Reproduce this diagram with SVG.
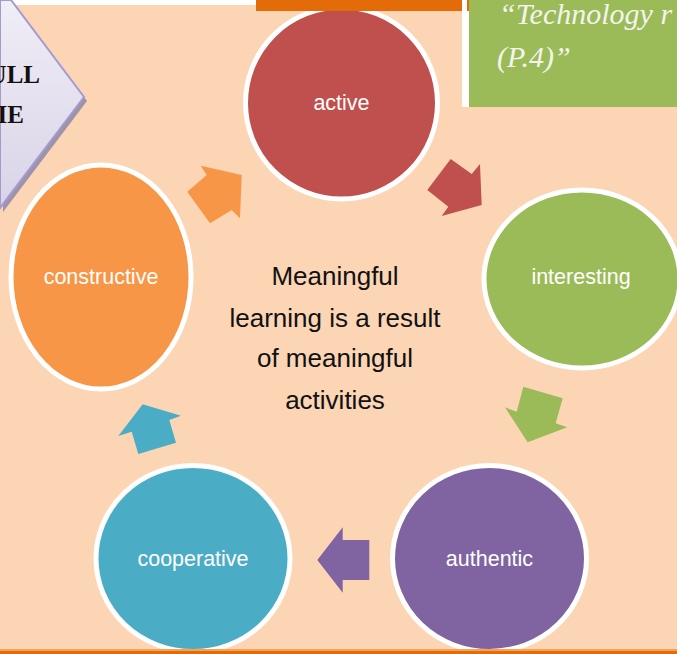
<svg xmlns="http://www.w3.org/2000/svg" width="677" height="654" viewBox="0 0 677 654">
<defs>
<linearGradient id="lav" x1="0" y1="0" x2="0" y2="1">
<stop offset="0" stop-color="#F0EEF7"/>
<stop offset="1" stop-color="#D9D3E7"/>
</linearGradient>
</defs>
<style>
.node{stroke:#FFFFFF;stroke-width:5}
.lbl{font-family:"Liberation Sans",Arial,sans-serif;font-size:21.5px;fill:#FFFFFF;text-anchor:middle}
.mid{font-family:"Liberation Sans",Arial,sans-serif;font-size:26px;fill:#111111;text-anchor:middle}
.quote{font-family:"Liberation Serif","Times New Roman",serif;font-style:italic;font-size:30px;fill:#F4F4EE}
.bold{font-family:"Liberation Serif","Times New Roman",serif;font-weight:bold;font-size:25px;fill:#111111;text-anchor:end}
</style>
<rect x="0" y="0" width="677" height="654" fill="#FCD5B5"/>
<rect x="0" y="0" width="677" height="5" fill="#FFFFFF"/>
<g id="banner">
<polygon points="3,4 14,4 87,101 3,212" fill="#9E93A8"/>
<polygon points="0,0 11,0 84,97 0,208" fill="url(#lav)" stroke="#A49AD0" stroke-width="2"/>
<text class="bold" x="40" y="83">ULL</text>
<text class="bold" x="24" y="123">IE</text>
</g>
<g id="quote">
<rect x="462" y="0" width="7" height="107" fill="#FFFFFF"/>
<rect x="469" y="0" width="208" height="107" fill="#9BBB59"/>
<rect x="467" y="0" width="2" height="11" fill="#E36C09"/>
<text class="quote" x="499" y="24">“Technology r</text>
<text class="quote" x="497" y="67">(P.4)”</text>
</g>
<g id="connectors">
<polygon points="241.7,175 240,218.3 231.7,210 210,223.3 187.3,191.7 206.7,175 200.7,165.7" fill="#F79646"/>
<polygon points="481.7,205 441.7,216 448.3,206.7 427.3,190 450.7,159 471.7,174 480,164" fill="#C0504D"/>
<polygon points="527.7,442.3 505,407.3 516.7,411.7 523.3,386.7 562.7,398.3 555.7,423.3 567.3,427.3" fill="#9BBB59"/>
<polygon points="317.3,560 342.7,527.3 342.7,540 369.3,540 369.3,580 342.7,580 342.7,592.7" fill="#8064A2"/>
<polygon points="142.7,404.3 181,415.7 169.3,420 176,442.7 138.3,454 131.7,431.7 118.3,436" fill="#4BACC6"/>
</g>
<g id="node-active">
<circle class="node" cx="341.5" cy="103" r="96" fill="#C0504D"/>
<text class="lbl" x="341.5" y="110">active</text>
</g>
<g id="node-interesting">
<ellipse class="node" cx="582" cy="279" rx="98" ry="89" fill="#9BBB59"/>
<text class="lbl" x="581" y="284">interesting</text>
</g>
<g id="node-authentic">
<ellipse class="node" cx="489.5" cy="558.5" rx="97" ry="93" fill="#8064A2"/>
<text class="lbl" x="489.5" y="566">authentic</text>
</g>
<g id="node-cooperative">
<ellipse class="node" cx="193" cy="558.5" rx="97" ry="93" fill="#4BACC6"/>
<text class="lbl" x="193" y="566">cooperative</text>
</g>
<g id="node-constructive">
<ellipse class="node" cx="101" cy="277" rx="90" ry="112" fill="#F79646"/>
<text class="lbl" x="101" y="284">constructive</text>
</g>
<g id="center-text">
<text class="mid" x="335" y="285">Meaningful</text>
<text class="mid" x="335" y="327">learning is a result</text>
<text class="mid" x="335" y="367">of meaningful</text>
<text class="mid" x="335" y="409">activities</text>
</g>
<rect x="256" y="0" width="206" height="11" fill="#E36C09"/>
<rect x="0" y="649" width="677" height="2" fill="#F2A35E"/>
<rect x="0" y="651" width="677" height="3" fill="#E36C09"/>
</svg>
